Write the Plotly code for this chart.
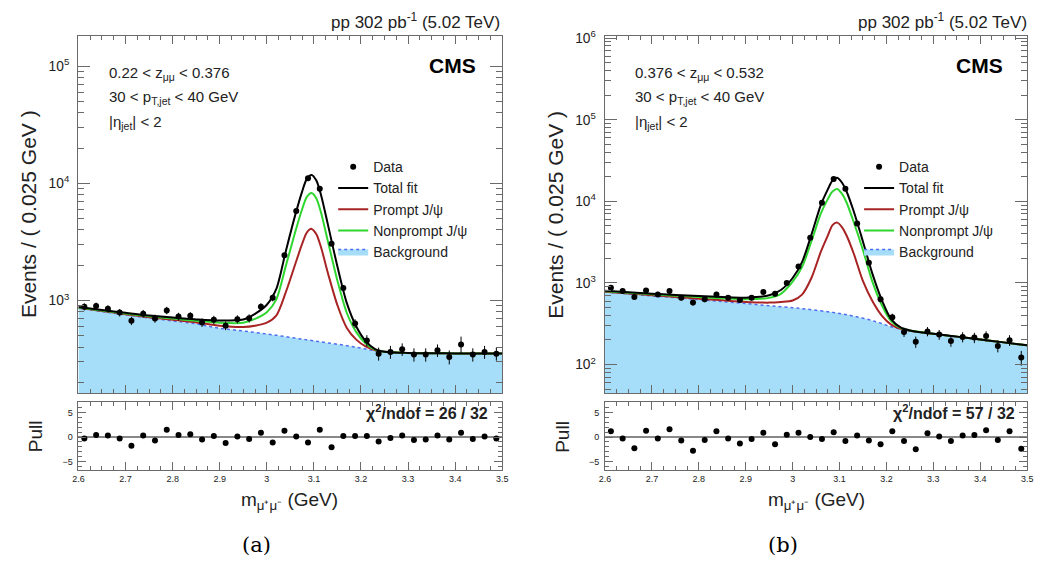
import plotly.graph_objects as go

# ---------------- data ----------------
BIN_CENTERS = [2.6125, 2.6375, 2.6625, 2.6875, 2.7125, 2.7375, 2.7625, 2.7875, 2.8125,
               2.8375, 2.8625, 2.8875, 2.9125, 2.9375, 2.9625, 2.9875, 3.0125, 3.0375,
               3.0625, 3.0875, 3.1125, 3.1375, 3.1625, 3.1875, 3.2125, 3.2375, 3.2625,
               3.2875, 3.3125, 3.3375, 3.3625, 3.3875, 3.4125, 3.4375, 3.4625, 3.4875]

# panel (a)
DATA_A = [885, 897, 851, 789, 672, 773, 702, 824, 730, 740, 650, 685, 610, 693, 706, 885,
          1054, 2432, 5807, 11070, 8990, 3050, 1279, 637, 456, 352, 364, 384, 346, 346,
          376, 330, 422, 346, 364, 352]
ERR_A = [62, 62, 60, 58, 55, 58, 56, 60, 56, 56, 54, 55, 52, 55, 56, 62,
         70, 95, 140, 190, 170, 100, 70, 55, 50, 45, 46, 47, 45, 45,
         46, 45, 70, 45, 46, 45]
PULL_A = [-0.3, 0.4, 0.3, -0.3, -1.8, 0.3, -0.7, 1.5, 0.4, 0.6, -0.5, 0.2, -1.2, 0.1,
          -0.4, 0.9, -1.1, 1.3, 0.1, -1.1, 1.5, -2.1, 0.2, 0.2, 0.2, -0.9, -0.2, 0.3,
          -0.6, -0.5, 0.3, -0.5, 0.9, -0.4, 0.1, -0.3]

# panel (b)
DATA_B = [871, 794, 673, 809, 724, 794, 660, 575, 631, 724, 660, 619, 660, 773, 738, 1000,
          1585, 3570, 9590, 18800, 14250, 5360, 1772, 631, 380, 251, 190, 255, 233, 195,
          218, 214, 224, 169, 199, 122]
ERR_B = [60, 57, 52, 58, 54, 57, 52, 48, 50, 54, 52, 50, 52, 56, 55, 66,
         85, 120, 190, 260, 230, 140, 80, 52, 40, 33, 30, 33, 32, 30,
         31, 31, 32, 28, 30, 25]
PULL_B = [1.2, -0.3, -2.3, 1.3, -0.3, 1.6, -0.7, -2.8, -0.6, 1.2, -0.3, -1.3, -0.4, 0.9,
          -1.5, 0.5, 0.9, 0.0, -0.4, 1.0, -0.8, 0.3, -0.7, -1.5, 1.2, -0.8, -2.5, 0.8,
          0.1, -0.8, 0.3, 0.4, 1.4, -0.6, 1.2, -2.4]

X_FIT = [2.6, 2.65, 2.7, 2.75, 2.8, 2.85, 2.9, 2.95, 2.975, 3.0, 3.02, 3.04, 3.06, 3.075,
         3.085, 3.095, 3.105, 3.115, 3.13, 3.15, 3.17, 3.19, 3.21, 3.23, 3.25, 3.3, 3.35,
         3.4, 3.45, 3.5]

BKG_A = [860, 805, 755, 710, 670, 632, 580, 550, 534, 518, 505, 492, 478, 468, 462, 456,
         450, 444, 435, 424, 412, 400, 386, 373, 365, 357, 355, 354, 353, 353]
TOTAL_A = [880, 830, 785, 745, 715, 690, 675, 690, 770, 920, 1250, 2600, 5300, 8500,
           10900, 11800, 10600, 8000, 4400, 1950, 950, 600, 450, 385, 366, 357, 355, 354,
           353, 353]
PROMPT_A = [866, 813, 765, 721, 684, 651, 610, 595, 610, 647, 743, 1167, 2021, 3038, 3802,
            4086, 3698, 2862, 1704, 912, 584, 464, 406, 377, 365, 357, 355, 354, 353, 353]
NONPROMPT_A = [874, 822, 776, 734, 701, 672, 646, 646, 697, 795, 1019, 1947, 3805, 6010,
               7664, 8284, 7454, 5656, 3171, 1477, 783, 538, 430, 381, 365, 357, 355, 354,
               353, 353]

BKG_B = [775, 735, 695, 660, 625, 590, 558, 527, 512, 497, 484, 470, 455, 444, 436, 428,
         418, 408, 392, 370, 345, 318, 290, 272, 258, 238, 220, 203, 187, 172]
TOTAL_B = [800, 768, 738, 712, 690, 672, 660, 705, 820, 1150, 1800, 3900, 9000, 14000,
           18000, 19400, 17000, 13200, 7600, 3200, 1300, 620, 360, 285, 262, 238, 220, 203,
           187, 172]
PROMPT_B = [782, 744, 706, 674, 642, 612, 585, 574, 585, 610, 720, 1150, 2400, 3800, 5117,
            5484, 4837, 3817, 2313, 1050, 600, 398, 309, 275, 259, 238, 220, 203, 187, 172]
NONPROMPT_B = [793, 759, 726, 698, 672, 649, 632, 656, 735, 1037, 1564, 3220, 7055, 10644,
               13166, 14179, 12437, 9680, 5616, 2520, 1037, 537, 341, 281, 261, 238, 220,
               203, 187, 172]

LEGEND_NAMES = ["Data", "Total fit", "Prompt J/\u03c8", "Nonprompt J/\u03c8", "Background"]
X_TICKS = [2.6, 2.7, 2.8, 2.9, 3.0, 3.1, 3.2, 3.3, 3.4, 3.5]

# ---------------- styling ----------------
W, H = 1045, 562
FONT = "Liberation Sans, Arial, Helvetica, sans-serif"
C_BLACK = "#000000"
C_RED = "#a82424"
C_GREEN = "#2fd62f"
C_FILL = "rgba(166,222,250,1)"
C_BLUE = "#4d6ef2"
FRAME = "#6a6a6a"

def px_x(p):
    return p / W

def px_y(p):
    return 1 - p / H

fig = go.Figure()

panels = [
    dict(key="a", xm="x", ym="y", xp="x2", yp="y2", legend="legend",
         data=DATA_A, err=ERR_A, pull=PULL_A, bkg=BKG_A, tot=TOTAL_A,
         pr=PROMPT_A, npr=NONPROMPT_A),
    dict(key="b", xm="x3", ym="y3", xp="x4", yp="y4", legend="legend2",
         data=DATA_B, err=ERR_B, pull=PULL_B, bkg=BKG_B, tot=TOTAL_B,
         pr=PROMPT_B, npr=NONPROMPT_B),
]

for p in panels:
    # background fill + dashed line
    fig.add_trace(go.Scatter(
        x=X_FIT, y=p["bkg"], mode="lines", fill="tozeroy", fillcolor=C_FILL,
        line=dict(color=C_BLUE, width=1.5, dash="dot", shape="spline"),
        name=LEGEND_NAMES[4], legend=p["legend"], legendrank=5,
        xaxis=p["xm"], yaxis=p["ym"]))
    fig.add_trace(go.Scatter(
        x=X_FIT, y=p["pr"], mode="lines",
        line=dict(color=C_RED, width=2, shape="spline", smoothing=0.8),
        name=LEGEND_NAMES[2], legend=p["legend"], legendrank=3,
        xaxis=p["xm"], yaxis=p["ym"]))
    fig.add_trace(go.Scatter(
        x=X_FIT, y=p["npr"], mode="lines",
        line=dict(color=C_GREEN, width=2, shape="spline", smoothing=0.8),
        name=LEGEND_NAMES[3], legend=p["legend"], legendrank=4,
        xaxis=p["xm"], yaxis=p["ym"]))
    fig.add_trace(go.Scatter(
        x=X_FIT, y=p["tot"], mode="lines",
        line=dict(color=C_BLACK, width=2, shape="spline", smoothing=0.8),
        name=LEGEND_NAMES[1], legend=p["legend"], legendrank=2,
        xaxis=p["xm"], yaxis=p["ym"]))
    fig.add_trace(go.Scatter(
        x=BIN_CENTERS, y=p["data"], mode="markers",
        marker=dict(color=C_BLACK, size=6),
        error_y=dict(type="data", array=p["err"], color=C_BLACK, thickness=1, width=0),
        name=LEGEND_NAMES[0], legend=p["legend"], legendrank=1,
        xaxis=p["xm"], yaxis=p["ym"]))
    # pulls
    fig.add_trace(go.Scatter(
        x=BIN_CENTERS, y=p["pull"], mode="markers",
        marker=dict(color=C_BLACK, size=6), showlegend=False,
        xaxis=p["xp"], yaxis=p["yp"]))

# ---------------- axes ----------------
common_x = dict(range=[2.6, 3.5], showline=True, linecolor=FRAME, linewidth=1, mirror="allticks",
                ticks="inside", ticklen=8, tickcolor=FRAME, tickvals=X_TICKS,
                minor=dict(ticks="inside", ticklen=4, dtick=0.025, tick0=2.6, tickcolor=FRAME),
                showgrid=False, zeroline=False)
main_y = dict(type="log", showline=True, linecolor=FRAME, linewidth=1, mirror="allticks",
              ticks="inside", ticklen=12, tickcolor=FRAME, dtick=1, exponentformat="power",
              minor=dict(ticks="inside", ticklen=6, dtick="D1", tickcolor=FRAME),
              ticklabelstandoff=6,
              tickfont=dict(family=FONT, size=11, color="#222"), showgrid=False, zeroline=False)
pull_y = dict(range=[-6.8, 7.2], showline=True, linecolor=FRAME, linewidth=1, mirror="allticks",
              ticks="inside", ticklen=8, tickcolor=FRAME, tickvals=[-5, 0, 5],
              minor=dict(ticks="inside", ticklen=4, dtick=1, tickcolor=FRAME),
              ticklabelstandoff=3,
              tickfont=dict(family=FONT, size=9, color="#222"), showgrid=False,
              zeroline=True, zerolinecolor="#888", zerolinewidth=1.5)

MAIN_Y_DOM = [px_y(391), px_y(29)]
PULL_Y_DOM = [px_y(469), px_y(400)]
LX = [px_x(73.3), px_x(502)]
RX = [px_x(606), px_x(1033)]

fig.update_layout(
    xaxis=dict(common_x, domain=LX, anchor="y", showticklabels=False),
    yaxis=dict(main_y, domain=MAIN_Y_DOM, anchor="x", range=[2.21, 5.26]),
    xaxis2=dict(common_x, domain=LX, anchor="y2", showticklabels=True,
                tickfont=dict(family=FONT, size=9, color="#222")),
    yaxis2=dict(pull_y, domain=PULL_Y_DOM, anchor="x2"),
    xaxis3=dict(common_x, domain=RX, anchor="y3", showticklabels=False),
    yaxis3=dict(main_y, domain=MAIN_Y_DOM, anchor="x3", range=[1.65, 6.03]),
    xaxis4=dict(common_x, domain=RX, anchor="y4", showticklabels=True,
                tickfont=dict(family=FONT, size=9, color="#222")),
    yaxis4=dict(pull_y, domain=PULL_Y_DOM, anchor="x4"),
)

legend_common = dict(font=dict(family=FONT, size=14, color="#222"), bgcolor="rgba(0,0,0,0)",
                     xanchor="left", yanchor="top", itemwidth=30, tracegroupgap=0,
                     traceorder="normal")
fig.update_layout(
    legend=dict(legend_common, x=px_x(331), y=px_y(146)),
    legend2=dict(legend_common, x=px_x(863), y=px_y(146)),
)

# ---------------- annotations ----------------
ann = []

def text(x, y, s, size=13, xanchor="left", angle=0, family=FONT, color="#222"):
    ann.append(dict(x=px_x(x), y=px_y(y), xref="paper", yref="paper", text=s,
                    showarrow=False, xanchor=xanchor, yanchor="middle", textangle=angle,
                    font=dict(family=family, size=size, color=color)))

for off, z_txt, chi in [(0, "0.22 &lt; z<sub>\u03bc\u03bc</sub> &lt; 0.376", "26 / 32"),
                        (532.7, "0.376 &lt; z<sub>\u03bc\u03bc</sub> &lt; 0.532", "57 / 32")]:
    text(502 + off, 14, "pp 302 pb<sup>-1</sup> (5.02 TeV)", size=17, xanchor="right")
    text(452 + off, 59, "<b>CMS</b>", size=21, xanchor="center", color="#000")
    text(102 + off, 67, z_txt, size=15)
    text(102 + off, 92, "30 &lt; p<sub>T,jet</sub> &lt; 40 GeV", size=15)
    text(102 + off, 117, "|\u03b7<sub>jet</sub>| &lt; 2", size=15)
    text(23 + off, 210, "Events / ( 0.025 GeV )", size=21, xanchor="center", angle=-90)
    text(30 + off, 435, "Pull", size=19, xanchor="center", angle=-90)
    text(490 + off, 410, "<b>\u03c7<sup>2</sup>/ndof = " + chi + "</b>", size=16, xanchor="right")
    text(287 + off, 500, "m<sub>\u03bc\u207a\u03bc\u207b</sub> (GeV)", size=19, xanchor="center")
    text(253 + off, 545, "(a)" if off == 0 else "(b)", size=21, xanchor="center",
         family="DejaVu Serif, Liberation Serif, serif", color="#000")

fig.update_layout(annotations=ann, width=W, height=H, margin=dict(l=0, r=0, t=0, b=0),
                  plot_bgcolor="white", paper_bgcolor="white",
                  font=dict(family=FONT, color="#222"))

fig.write_html("out.html", config={"displayModeBar": False},
               post_script="document.body.style.margin='0';")
